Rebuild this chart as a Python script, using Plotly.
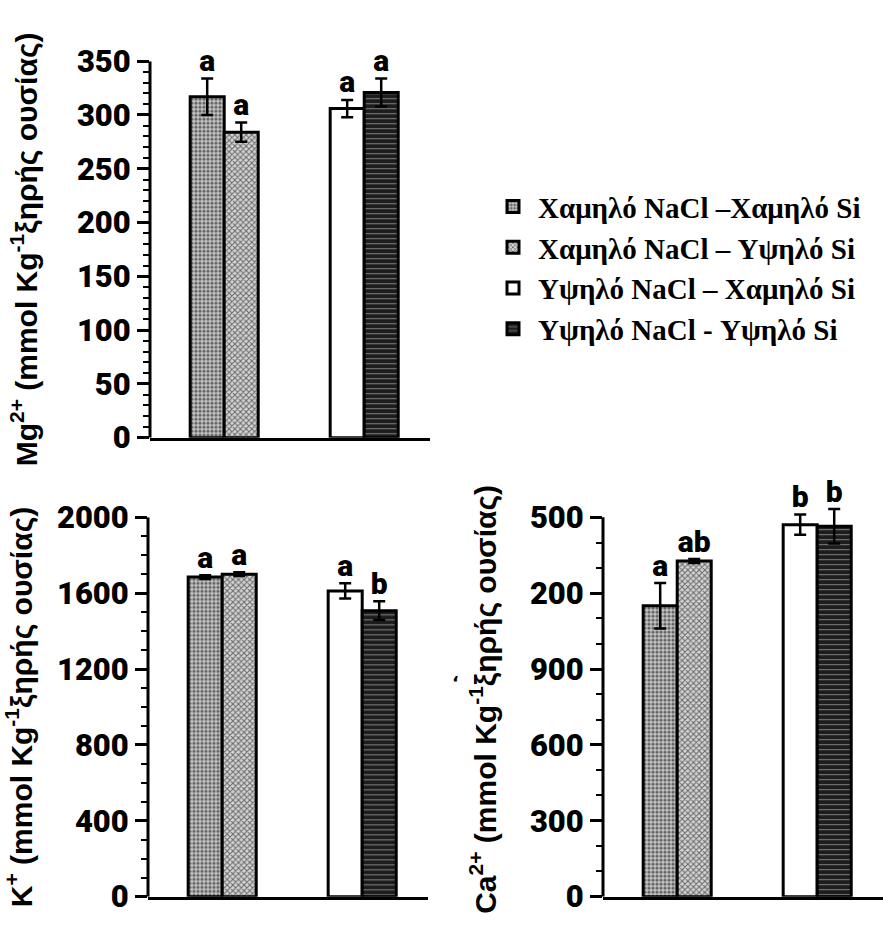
import plotly.graph_objects as go

W, H = 883, 931

# ---------------- data ----------------
groups = ["Χαμηλό NaCl", "Υψηλό NaCl"]
series_names = ["Χαμηλό NaCl –Χαμηλό Si", "Χαμηλό NaCl – Υψηλό Si",
                "Υψηλό NaCl – Χαμηλό Si", "Υψηλό NaCl - Υψηλό Si"]
series_group = [0, 0, 1, 1]

mg_values = [317, 284, 306, 321]
mg_errors = [17, 9, 8, 13]
mg_letters = ["a", "a", "a", "a"]

k_values = [1685, 1700, 1612, 1508]
k_errors = [10, 10, 40, 50]
k_letters = ["a", "a", "a", "b"]

ca_values = [1150, 1327, 1471, 1465]
ca_errors = [90, 8, 40, 68]
ca_letters = ["a", "ab", "b", "b"]

mg_tickvals = [0, 50, 100, 150, 200, 250, 300, 350]
k_tickvals = [0, 400, 800, 1200, 1600, 2000]
ca_tickvals = [0, 300, 600, 900, 1200, 1500]
ca_ticktext = ["0", "300", "600", "900", "200", "500"]

# ---------------- styles ----------------
BAR_W = 0.243
slot = [-1, 0, -1, 0]
patterns = [
    dict(shape=".", fgcolor="#000000", bgcolor="#c4c4c4", size=4, solidity=0.5),
    dict(shape="x", fgcolor="#000000", bgcolor="#d4d4d4", size=4, solidity=0.45),
    dict(shape="", fgcolor="#000000", bgcolor="#ffffff"),
    dict(shape="-", fgcolor="#d8d8d8", bgcolor="#1c1c1c", size=5, solidity=0.22),
]
base_colors = ["#c4c4c4", "#d4d4d4", "#ffffff", "#1c1c1c"]

tick_font = dict(family="Roboto", size=31, color="black", weight=900)
title_font = dict(family="Liberation Sans", size=30, color="black", weight="bold")
letter_font = dict(family="Roboto", size=30, color="black", weight=900)


def px_x(p):
    return p / W


def px_y(p):
    return 1 - p / H


panels = [
    dict(values=mg_values, errors=mg_errors, letters=mg_letters, xa="x", ya="y",
         xdom=[150, 430], ydom=[437, 45], pad=0, tickvals=mg_tickvals,
         ticktext=[str(v) for v in mg_tickvals], minor=10,
         title="Mg<sup>2+</sup> (mmol Kg<sup>-1</sup>ξηρής ουσίας)", standoff=30, legend=True),
    dict(values=k_values, errors=k_errors, letters=k_letters, xa="x2", ya="y2",
         xdom=[148, 428], ydom=[915, 520], pad=0, tickvals=k_tickvals,
         ticktext=[str(v) for v in k_tickvals], minor=100,
         title="K<sup>+</sup> (mmol Kg<sup>-1</sup>ξηρής ουσίας)", standoff=19, legend=False),
    dict(values=ca_values, errors=ca_errors, letters=ca_letters, xa="x3", ya="y3",
         xdom=[603, 883], ydom=[915, 520], pad=60, tickvals=ca_tickvals,
         ticktext=ca_ticktext, minor=100,
         title="Ca<sup>2+</sup> (mmol Kg<sup>-1</sup>ξηρής ουσίας)", standoff=24, legend=False),
]

fig = go.Figure()
layout_axes = {}
shapes = []

for p in panels:
    lx, ly, lt = [], [], []
    for i, name in enumerate(series_names):
        fig.add_trace(go.Bar(
            x=[series_group[i]], y=[p["values"][i]],
            name=name, showlegend=p["legend"],
            width=BAR_W, offset=slot[i] * BAR_W, cliponaxis=False,
            marker=dict(color=base_colors[i], pattern=patterns[i],
                        line=dict(color="black", width=3)),
            error_y=dict(type="data", array=[p["errors"][i]], color="black",
                         thickness=2.5, width=6),
            xaxis=p["xa"], yaxis=p["ya"],
        ))
        lx.append(series_group[i] + (slot[i] + 0.5) * BAR_W)
        ly.append(p["values"][i] + p["errors"][i])
        lt.append(p["letters"][i])
    fig.add_trace(go.Scatter(
        x=lx, y=ly, text=lt, mode="text", textposition="top center",
        textfont=letter_font, cliponaxis=False, showlegend=False,
        hoverinfo="skip", xaxis=p["xa"], yaxis=p["ya"],
    ))
    top_tick = p["tickvals"][-1]
    bottom_px, top_px = p["ydom"]
    px_per_unit = (bottom_px - top_px) / top_tick
    dom_top_px = top_px - p["pad"] * px_per_unit
    xk = "xaxis" if p["xa"] == "x" else "xaxis" + p["xa"][1:]
    yk = "yaxis" if p["ya"] == "y" else "yaxis" + p["ya"][1:]
    layout_axes[xk] = dict(
        domain=[px_x(p["xdom"][0]), px_x(p["xdom"][1])], anchor=p["ya"],
        range=[-0.53, 1.47], showticklabels=False, ticks="",
        showline=True, linecolor="black", linewidth=3, showgrid=False, zeroline=False,
    )
    layout_axes[yk] = dict(
        domain=[px_y(bottom_px), px_y(dom_top_px)], anchor=p["xa"],
        range=[0, top_tick + p["pad"]], tickvals=p["tickvals"], ticktext=p["ticktext"],
        ticks="outside", ticklen=12, tickwidth=2.5, tickcolor="black",
        minor=dict(dtick=p["minor"], ticks="outside", ticklen=6, tickwidth=2, tickcolor="black"),
        showline=False, showgrid=False, zeroline=False,
        tickfont=tick_font,
        title=dict(text=p["title"], font=title_font, standoff=p["standoff"]),
    )
    # y-axis line drawn only up to the top tick
    shapes.append(dict(type="line", xref=p["xa"] + " domain", yref=p["ya"],
                       x0=0, x1=0, y0=0, y1=top_tick,
                       line=dict(color="black", width=3), layer="above"))

fig.update_layout(
    width=W, height=H, margin=dict(l=0, r=0, t=0, b=0),
    paper_bgcolor="white", plot_bgcolor="white",
    barmode="overlay", showlegend=True,
    legend=dict(x=px_x(488), y=px_y(170), xanchor="left", yanchor="top",
                font=dict(family="Liberation Serif", size=29, color="black", weight="bold"),
                bgcolor="rgba(0,0,0,0)", itemwidth=40),
    shapes=shapes,
    annotations=[dict(x=px_x(455), y=px_y(705), xref="paper", yref="paper",
                      text="‘", showarrow=False,
                      font=dict(family="DejaVu Sans", size=18, color="black", weight="bold"))],
    **layout_axes,
)

fig.write_html("out.html")
